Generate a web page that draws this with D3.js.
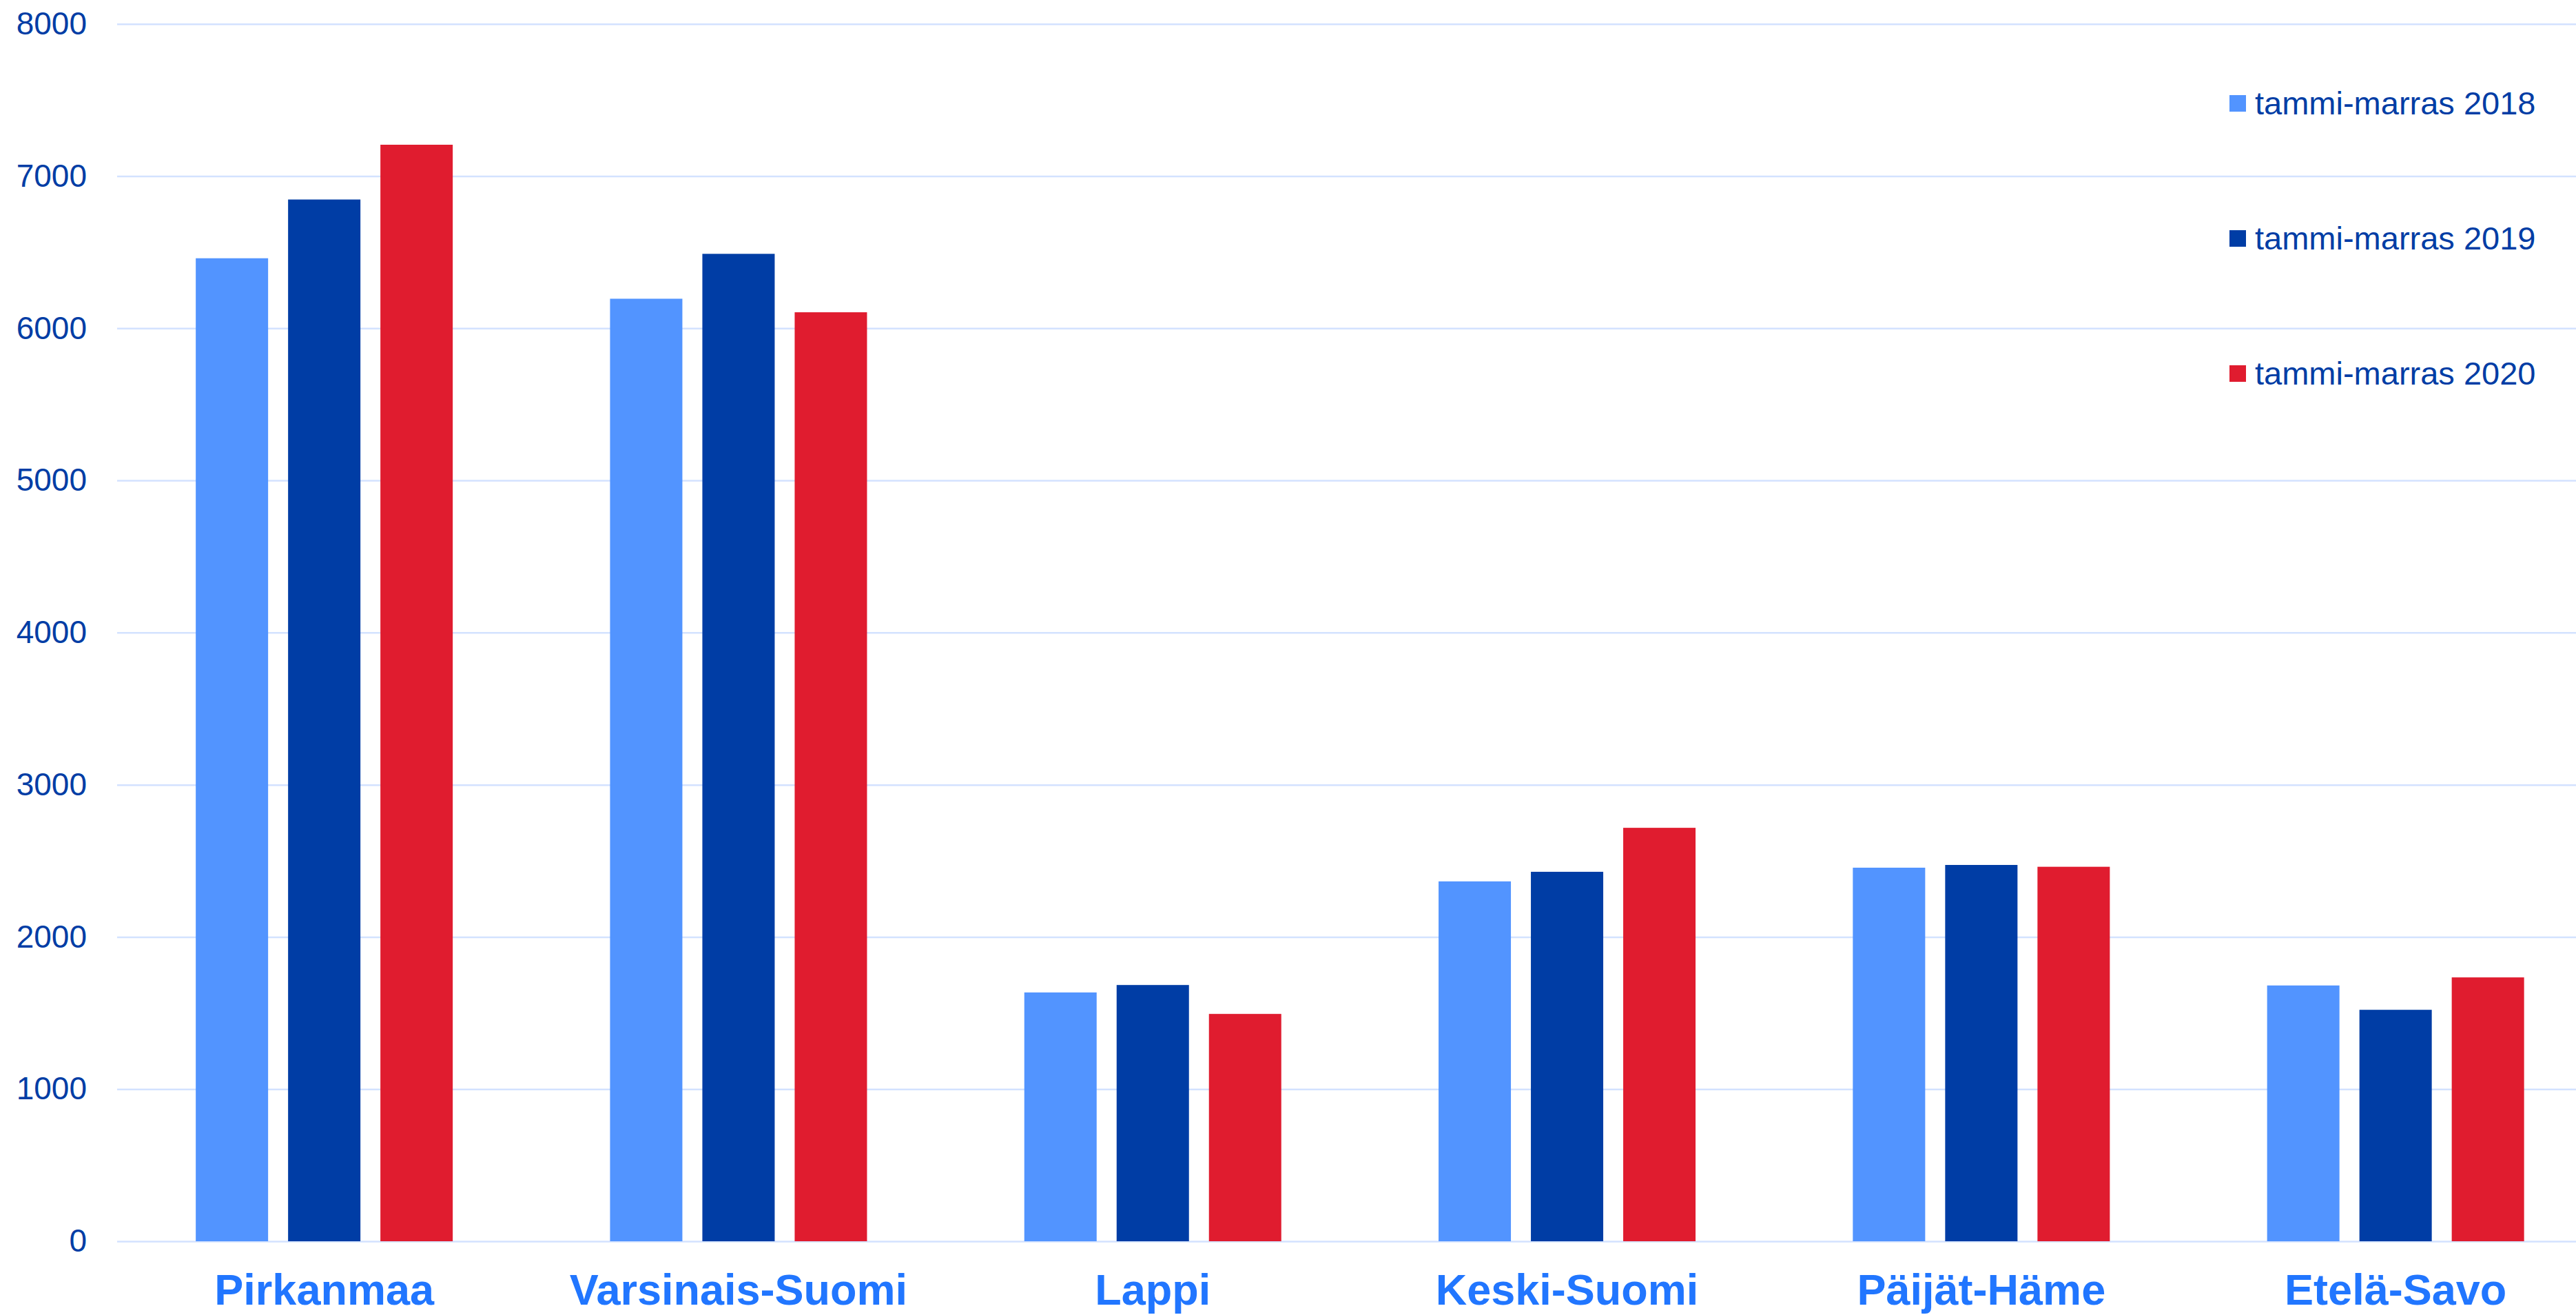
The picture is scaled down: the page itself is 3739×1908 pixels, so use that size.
<!DOCTYPE html>
<html>
<head>
<meta charset="utf-8">
<script src="https://cdn.jsdelivr.net/npm/d3@7"></script>
<style>
  body { margin: 0; background: #fff; }
  svg { display: block; font-family: Arial, "Liberation Sans", sans-serif; }
</style>
</head>
<body>
<div id="chart"></div>
<script>
const regions = ["Pirkanmaa", "Varsinais-Suomi", "Lappi", "Keski-Suomi", "Päijät-Häme", "Etelä-Savo"];
const seriesNames = ["tammi-marras 2018", "tammi-marras 2019", "tammi-marras 2020"];
const values2018 = [6460, 6194, 1635, 2365, 2455, 1681];
const values2019 = [6846, 6489, 1684, 2428, 2473, 1521];
const values2020 = [7206, 6105, 1494, 2717, 2461, 1734];
const yTicks = [0, 1000, 2000, 3000, 4000, 5000, 6000, 7000, 8000];

const colors = ["#5294FF", "#003DA5", "#E01C2F"];
const allValues = [values2018, values2019, values2020];

const w = 3739;
const h = 1908;
const plotLeft = 170;
const plotBottom = 1801;
const plotTop = 34.7;

const svg = d3
  .select("#chart")
  .append("svg")
  .attr("width", w)
  .attr("height", h);

svg.append("rect").attr("width", w).attr("height", h).attr("fill", "#fff");

// bands run a little past the right edge, like in the original
const x0 = d3.scaleBand().domain(regions).range([plotLeft, plotLeft + 6 * 601.3]);
const x1 = d3
  .scaleBand()
  .domain(seriesNames)
  .range([0, 373])
  .paddingInner(29 / 134);
const groupOffset = (x0.bandwidth() - 373) / 2;

const y = d3.scaleLinear().domain([0, 8000]).range([plotBottom, plotTop]);

const yAxis = d3
  .axisLeft(y)
  .tickValues(yTicks)
  .tickFormat(d3.format("d"))
  .tickSize(-(w - plotLeft))
  .tickPadding(44);

const gy = svg
  .append("g")
  .attr("transform", "translate(" + plotLeft + ",0)")
  .call(yAxis);
gy.select(".domain").remove();
gy.selectAll(".tick line").attr("stroke", "#D3E2FF").attr("stroke-width", 2.5);
gy.selectAll(".tick text")
  .attr("fill", "#003DA5")
  .attr("font-size", 46)
  .attr("font-family", "Arial, 'Liberation Sans', sans-serif");

const rows = regions.map((r, i) => ({
  region: r,
  vals: seriesNames.map((s, j) => ({ key: s, value: allValues[j][i], color: colors[j] })),
}));

svg
  .append("g")
  .selectAll("g")
  .data(rows)
  .join("g")
  .attr("transform", (d) => "translate(" + (x0(d.region) + groupOffset) + ",0)")
  .selectAll("rect")
  .data((d) => d.vals)
  .join("rect")
  .attr("x", (d) => x1(d.key))
  .attr("width", x1.bandwidth())
  .attr("y", (d) => y(d.value))
  .attr("height", (d) => plotBottom - y(d.value))
  .attr("fill", (d) => d.color);

const xAxis = d3.axisBottom(x0).tickSize(0);
const gx = svg
  .append("g")
  .attr("transform", "translate(0," + plotBottom + ")")
  .call(xAxis);
gx.select(".domain").remove();
gx.selectAll(".tick text")
  .attr("y", 92)
  .attr("dy", 0)
  .attr("fill", "#2176FF")
  .attr("font-size", 63)
  .attr("font-weight", "bold")
  .attr("font-family", "Arial, 'Liberation Sans', sans-serif");

// legend
const legend = svg
  .append("g")
  .selectAll("g")
  .data(seriesNames)
  .join("g")
  .attr("transform", (d, i) => "translate(3236," + (138 + i * 196) + ")");

legend
  .append("rect")
  .attr("width", 24)
  .attr("height", 24)
  .attr("fill", (d, i) => colors[i]);

legend
  .append("text")
  .attr("x", 37)
  .attr("y", 28)
  .attr("fill", "#003DA5")
  .attr("font-size", 47)
  .text((d) => d);
</script>
</body>
</html>
